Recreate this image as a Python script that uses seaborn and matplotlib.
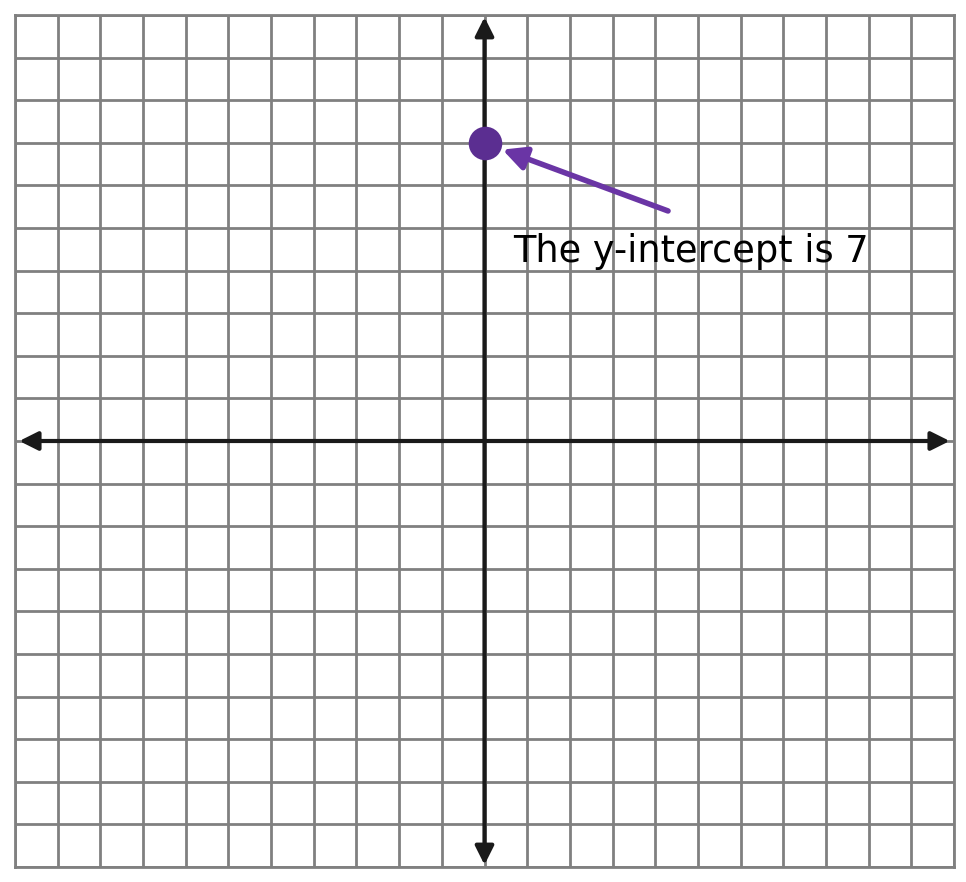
import numpy as np
import pandas as pd
import seaborn as sns
import matplotlib.pyplot as plt

# Dados
x_range = [-11, 11]
y_range = [-10, 10]
intercept_x = [0]
intercept_y = [7]
label = "The y-intercept is 7"
label_pos = [0.68, 4.2]
arrow_tail = [4.3, 5.4]
arrow_head = [0.42, 6.84]

sns.set_theme(style="white")
plt.rcParams['font.family'] = ['DejaVu Sans']

fig = plt.figure(figsize=(9.66, 8.82), dpi=100)
ax = fig.add_axes([15 / 966, 15 / 882, 939 / 966, 852 / 882])

# Grade quadriculada
ax.set_xticks(np.arange(x_range[0], x_range[1] + 1))
ax.set_yticks(np.arange(y_range[0], y_range[1] + 1))
ax.grid(True, color='#808080', linewidth=2.0)
ax.set_axisbelow(True)
ax.tick_params(length=0, labelbottom=False, labelleft=False)
for s in ax.spines.values():
    s.set_color('#808080')
    s.set_linewidth(2.0)
ax.set_xlim(x_range)
ax.set_ylim(y_range)

# Eixos com setas
ax.annotate('', xy=(x_range[1] - 0.1, 0), xytext=(x_range[0] + 0.1, 0),
            arrowprops=dict(arrowstyle='<|-|>', color='#1a1a1a', lw=3,
                            mutation_scale=28, shrinkA=0, shrinkB=0))
ax.annotate('', xy=(0, y_range[1] - 0.05), xytext=(0, y_range[0] + 0.05),
            arrowprops=dict(arrowstyle='<|-|>', color='#1a1a1a', lw=3,
                            mutation_scale=28, shrinkA=0, shrinkB=0))

# Ponto do intercepto
df = pd.DataFrame({'x': intercept_x, 'y': intercept_y})
sns.scatterplot(data=df, x='x', y='y', ax=ax, s=500, color='#5b2e91',
                edgecolor='#5b2e91', zorder=5, clip_on=False)

ax.annotate('', xy=arrow_head, xytext=arrow_tail,
            arrowprops=dict(arrowstyle='-|>', color='#6a35a5', lw=4,
                            mutation_scale=35, shrinkA=0, shrinkB=0), zorder=6)

ax.text(label_pos[0], label_pos[1], label, fontsize=26.5, color='black',
        ha='left', va='baseline', zorder=7)

ax.set_xlabel('')
ax.set_ylabel('')
fig.savefig('out.png', dpi=100)
